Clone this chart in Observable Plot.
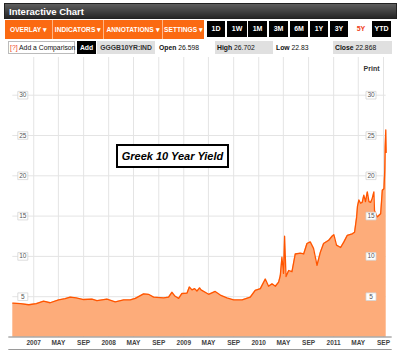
<!DOCTYPE html>
<html>
<head>
<meta charset="utf-8">
<script src="https://cdn.jsdelivr.net/npm/d3@7"></script>
<script src="https://cdn.jsdelivr.net/npm/@observablehq/plot@0.6"></script>
<style>
  html, body { margin: 0; padding: 0; background: #fff; }
  body { width: 400px; height: 353px; position: relative; overflow: hidden; font-family: "Liberation Sans", Arial, sans-serif; }
  .abs { position: absolute; box-sizing: border-box; }
  .title { left: 4px; top: 3px; width: 393px; height: 16px; background: linear-gradient(#5e5e5e, #262626); color: #fff; font-weight: bold; font-size: 9.5px; line-height: 16px; padding-left: 4px; border: 1px solid #222; }
  .menu { top: 20px; height: 19px; background: #fb6a12; color: #fff; font-weight: bold; font-size: 6.6px; line-height: 19px; text-align: center; border-right: 1px solid #fdb585; white-space: nowrap; }
  .tb { top: 21px; height: 16px; background: #000; color: #fff; font-weight: bold; font-size: 7px; line-height: 16px; text-align: center; }
  .tb.sel { background: #fff; color: #f04020; }
  .row { top: 41px; height: 13px; font-size: 6.8px; line-height: 13px; color: #111; white-space: nowrap; }
  .gray { background: #e0e0e0; }
  .annot { left: 116px; top: 144px; width: 113px; height: 24px; border: 2px solid #000; background: #fff; font-weight: bold; font-style: italic; font-size: 11px; line-height: 20px; text-align: center; color: #000; }
  #chart { position: absolute; left: 0; top: 57px; }
</style>
</head>
<body>
<div class="abs title">Interactive Chart</div>

<div class="abs menu" style="left:5px;width:48px;">OVERLAY ▾</div>
<div class="abs menu" style="left:53px;width:51px;">INDICATORS ▾</div>
<div class="abs menu" style="left:104px;width:59px;">ANNOTATIONS ▾</div>
<div class="abs menu" style="left:163px;width:41px;border-right:none;">SETTINGS ▾</div>

<div class="abs tb" style="left:207px;width:18px;">1D</div>
<div class="abs tb" style="left:227px;width:20px;">1W</div>
<div class="abs tb" style="left:248px;width:19px;">1M</div>
<div class="abs tb" style="left:269px;width:19px;">3M</div>
<div class="abs tb" style="left:290px;width:18px;">6M</div>
<div class="abs tb" style="left:310px;width:18px;">1Y</div>
<div class="abs tb" style="left:330px;width:18px;">3Y</div>
<div class="abs tb sel" style="left:352px;width:18px;">5Y</div>
<div class="abs tb" style="left:372px;width:19px;">YTD</div>

<div class="abs row" style="left:8px;width:67px;border:1px solid #bbb;line-height:11px;padding-left:1px;"><span style="color:#f04020">[?]</span> Add a Comparison</div>
<div class="abs row" style="left:77px;width:19px;background:#000;color:#fff;font-weight:bold;text-align:center;">Add</div>
<div class="abs row gray" style="left:97px;width:58px;font-weight:bold;color:#333;text-align:center;">GGGB10YR:IND</div>
<div class="abs row" style="left:159px;width:45px;"><b>Open</b> 26.598</div>
<div class="abs row gray" style="left:215px;width:58px;padding-left:2px;"><b>High</b> 26.702</div>
<div class="abs row" style="left:276px;width:40px;"><b>Low</b> 22.83</div>
<div class="abs row gray" style="left:333px;width:59px;padding-left:2px;"><b>Close</b> 22.868</div>

<div id="chart"></div>
<div class="abs annot">Greek 10 Year Yield</div>

<script>
// Greek 10Y government bond yield (%)
const dates = [
  "2006-09-21","2006-10-28","2006-12-08","2007-01-14","2007-02-18","2007-03-22","2007-05-02","2007-06-03","2007-06-28","2007-07-27",
  "2007-09-01","2007-10-12","2007-11-05","2007-12-24","2008-02-02","2008-03-14","2008-04-15","2008-05-10","2008-06-19","2008-07-13",
  "2008-08-07","2008-09-25","2008-10-19","2008-11-04","2008-11-20","2008-12-07","2008-12-23","2009-01-17","2009-01-28","2009-02-10",
  "2009-02-23","2009-03-06","2009-03-19","2009-03-26","2009-05-02","2009-06-03","2009-06-28","2009-07-30","2009-09-01","2009-10-12",
  "2009-11-21","2009-12-15","2010-01-09","2010-02-02","2010-02-18","2010-03-07","2010-03-23","2010-04-08","2010-04-16","2010-04-24",
  "2010-05-02","2010-05-07","2010-05-14","2010-05-27","2010-06-12","2010-06-28","2010-07-23","2010-08-08","2010-08-24","2010-09-09",
  "2010-09-25","2010-10-12","2010-10-28","2010-11-13","2010-12-08","2010-12-24","2011-01-02","2011-01-15","2011-02-04","2011-02-20",
  "2011-03-08","2011-04-02","2011-04-13","2011-04-23","2011-04-27","2011-05-04","2011-05-12","2011-05-20","2011-05-28","2011-06-05",
  "2011-06-14","2011-06-22","2011-06-30","2011-07-08","2011-07-16","2011-07-19","2011-08-01","2011-08-18","2011-08-26","2011-09-03",
  "2011-09-07","2011-09-09","2011-09-12","2011-09-14"
];
const values = [
  4.2, 4.15, 4.0, 4.15, 4.45, 4.25, 4.6, 4.75, 4.95, 4.85,
  4.65, 4.7, 4.5, 4.7, 4.35, 4.6, 4.6, 4.8, 5.35, 5.3,
  4.95, 4.85, 4.95, 5.55, 5.05, 4.8, 5.4, 5.45, 6.2, 5.85,
  6.0, 5.7, 6.1, 5.85, 5.3, 5.65, 5.2, 4.85, 4.6, 4.6,
  4.95, 5.8, 6.0, 7.2, 6.3, 6.6, 6.3, 6.8, 7.6, 9.9,
  7.9, 12.5, 7.5, 8.25, 8.1, 10.3, 10.4, 10.3, 11.6, 11.8,
  11.0, 8.9, 10.5, 11.6, 12.0, 12.5, 12.7, 11.4, 11.1, 11.8,
  12.6, 12.8, 13.0, 14.9, 16.2, 17.0, 16.6, 16.7, 17.6, 16.8,
  18.0, 16.8, 16.7, 17.2, 18.0, 15.7, 14.9, 15.3, 18.2, 18.4,
  20.7, 23.6, 25.7, 22.9
];
const tickDates = [
  "2007-01-01","2007-05-01","2007-09-01","2008-01-01","2008-05-01","2008-09-01","2009-01-01","2009-05-01",
  "2009-09-01","2010-01-01","2010-05-01","2010-09-01","2011-01-01","2011-05-01","2011-09-01"
];
const tickLabels = ["2007","MAY","SEP","2008","MAY","SEP","2009","MAY","SEP","2010","MAY","SEP","2011","MAY","SEP"];
const yTicks = [5, 10, 15, 20, 25, 30];
const yLabels = ["5", "10", "15", "20", "25", "30"];
const domainX = ["2006-09-21", "2011-09-14"];

const data = dates.map((d, i) => ({date: new Date(d), value: values[i]}));
const xt = tickDates.map((d, i) => ({date: new Date(d), label: tickLabels[i]}));
const yt = yTicks.map((v, i) => ({v, label: yLabels[i]}));

const box = {draw(context) { context.rect(-5, -3.8, 10, 7.6); }};
const grid = "#e4e4e4";

const chart = Plot.plot({
  width: 400,
  height: 296,
  marginLeft: 12.3,
  marginRight: 14.3,
  marginTop: 0,
  marginBottom: 16.5,
  style: {fontFamily: "'Liberation Sans', Arial, sans-serif", background: "transparent"},
  x: {type: "utc", domain: domainX.map(d => new Date(d)), axis: null},
  y: {domain: [0, 34.68], axis: null},
  marks: [
    Plot.ruleY(yTicks, {stroke: grid, strokeWidth: 1}),
    Plot.ruleX(xt, {x: "date", stroke: grid, strokeWidth: 1}),
    Plot.areaY(data, {x: "date", y: "value", fill: "#fdac7a"}),
    Plot.lineY(data, {x: "date", y: "value", stroke: "#ff5500", strokeWidth: 1.3}),
    Plot.ruleY([0], {stroke: "#808080", strokeWidth: 1, insetLeft: -4, insetRight: -6}),
    Plot.ruleY([0], {stroke: "#9a9a9a", strokeWidth: 1, insetLeft: -4, insetRight: -6, dy: 12.5}),
    Plot.dot(yt, {y: "v", frameAnchor: "left", dx: 10, symbol: box, r: 4, fill: "white", stroke: "#d4d4d4", strokeWidth: 0.8}),
    Plot.text(yt, {y: "v", text: "label", frameAnchor: "left", dx: 10, textAnchor: "middle", fontSize: 6.5, fill: "#555"}),
    Plot.dot(yt, {y: "v", frameAnchor: "right", dx: -15.2, symbol: box, r: 4, fill: "white", stroke: "#d4d4d4", strokeWidth: 0.8}),
    Plot.text(yt, {y: "v", text: "label", frameAnchor: "right", dx: -15.2, textAnchor: "middle", fontSize: 6.5, fill: "#555"}),
    Plot.text(xt, {x: "date", text: "label", frameAnchor: "bottom", dy: 5.5, lineAnchor: "middle", fontSize: 6.5, fontWeight: "bold", fill: "#444"}),
    Plot.text(["Print"], {frameAnchor: "top-right", dx: -6.7, dy: 11, textAnchor: "end", lineAnchor: "middle", fontSize: 7, fontWeight: "bold", fill: "#333"})
  ]
});
document.getElementById("chart").appendChild(chart);
</script>
</body>
</html>
